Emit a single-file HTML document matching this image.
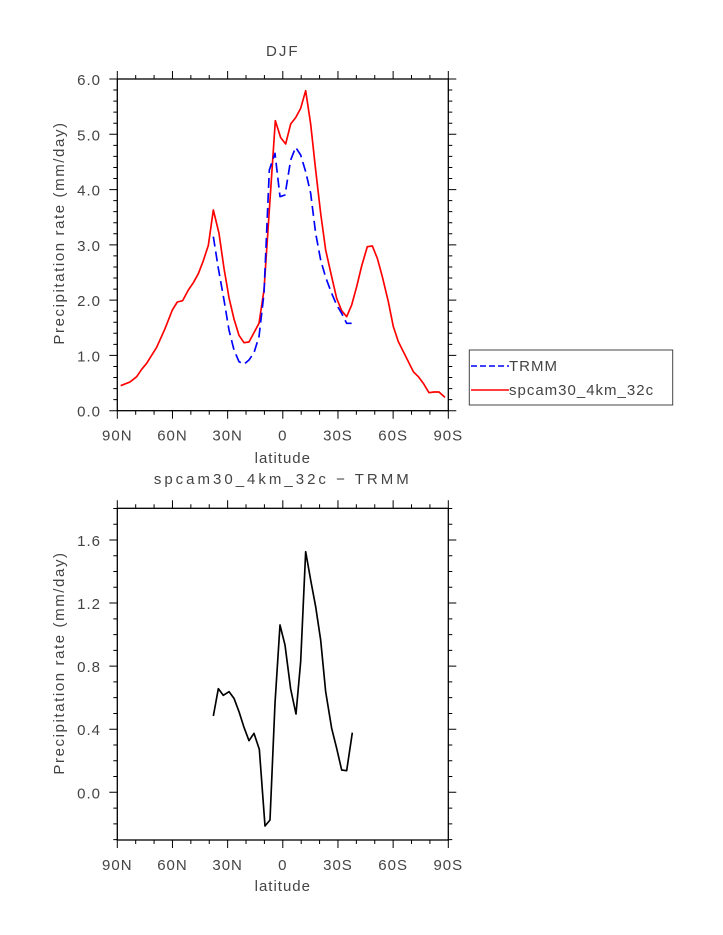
<!DOCTYPE html>
<html><head><meta charset="utf-8"><style>
html,body{margin:0;padding:0;background:#fff}
svg{display:block}
text{font-family:"Liberation Sans",sans-serif;fill:#444;font-size:15px;letter-spacing:1px}
</style></head><body>
<svg id="s" width="723" height="935" xmlns="http://www.w3.org/2000/svg">
<text x="282.8" y="56" text-anchor="middle" font-size="18" style="letter-spacing:2px">DJF</text>
<text x="282.8" y="484" text-anchor="middle" font-size="19" style="letter-spacing:3px">spcam30_4km_32c − TRMM</text>
<text x="282.8" y="463" text-anchor="middle">latitude</text>
<text x="282.8" y="891" text-anchor="middle">latitude</text>
<text transform="translate(64,233) rotate(-90)" text-anchor="middle" font-size="16" style="letter-spacing:1.6px">Precipitation rate (mm/day)</text>
<text transform="translate(64,663) rotate(-90)" text-anchor="middle" font-size="16" style="letter-spacing:1.6px">Precipitation rate (mm/day)</text>
<rect x="117.3" y="79" width="331" height="331.7" fill="none" stroke="#000" stroke-width="1.3"/>
<rect x="117.3" y="508.3" width="331" height="331.7" fill="none" stroke="#000" stroke-width="1.3"/>
<g id="ticks" stroke="#000" stroke-width="1"></g>
<g transform="translate(40,60) scale(0.33333)" fill="none" stroke-width="5" stroke-linejoin="round">
<polyline stroke="#f00" points="242,977 270,966 290,950 305,928 320,910 350,862 375,806 397,750 412,726 428,722 445,690 460,668 475,641 490,602 505,556 520,450 537,520 552,625 567,713 582,777 597,826 612,848 627,846 642,818 657,790 672,690 688,450 706,182 722,233 737,252 752,192 767,173 782,145 797,92 812,192 827,330 842,460 857,570 875,650 890,715 905,752 920,770 935,735 950,680 965,618 982,560 997,558 1012,595 1027,650 1045,725 1060,800 1075,845 1090,875 1105,905 1120,935 1135,950 1150,970 1167,998 1182,996 1197,996 1215,1012"/>
<polyline stroke="#00f" stroke-dasharray="30,15" points="520,530 535,625 552,720 567,810 582,870 597,905 612,913 627,900 642,878 657,830 672,700 688,330 705,280 720,410 735,405 752,300 767,262 782,285 797,335 812,400 827,520 842,600 857,652 875,700 890,735 905,760 920,790 935,790"/>
</g>
<g transform="translate(40,490) scale(0.33333)" fill="none" stroke-width="5" stroke-linejoin="round">
<polyline stroke="#000" points="520,678 535,596 550,616 567,605 582,625 597,665 612,712 627,752 642,730 658,778 675,1008 690,990 705,640 720,405 735,465 752,597 768,672 782,515 797,185 812,270 827,350 842,450 857,605 875,715 890,775 905,840 920,842 937,728"/>
</g>
<rect x="469.3" y="350" width="203.4" height="55" fill="#fff" stroke="#444" stroke-width="1"/>
<line x1="471" y1="366" x2="509" y2="366" stroke="#00f" stroke-width="1.5" stroke-dasharray="6,3"/>
<line x1="471" y1="390" x2="509" y2="390" stroke="#f00" stroke-width="1.5"/>
<text x="509" y="371">TRMM</text>
<text x="509" y="395">spcam30_4km_32c</text>
<g id="labels"></g>
</svg>
<script>
(function(){
var ns="http://www.w3.org/2000/svg",g=document.getElementById("ticks"),L=document.getElementById("labels"),d="";
var X0=117.3,X1=448.3,xl=["90N","60N","30N","0","30S","60S","90S"];
function tx(i){return X0+i*(X1-X0)/18;}
function lab(x,y,t,a){var e=document.createElementNS(ns,"text");e.setAttribute("x",x);e.setAttribute("y",y);e.setAttribute("text-anchor",a);e.textContent=t;L.appendChild(e);}
[[79,410.7],[508.3,840]].forEach(function(p){
 for(var i=0;i<=18;i++){var x=tx(i),m=(i%3==0)?8:4;
  d+="M"+x+" "+p[1]+"v"+m+"M"+x+" "+p[0]+"v-"+m;
  if(i%3==0)lab(x,p[1]+30,xl[i/3],"middle");}
});
for(var k=0;k<=30;k++){var y=410.7-k*0.2*55.283,m=(k%5==0)?8:4;
 d+="M117.3 "+y+"h-"+m+"M448.3 "+y+"h"+m;
 if(k%5==0)lab(101,y+6,(k/5).toFixed(1),"end");}
for(var k=-3;k<=18;k++){var y=792.3-k*0.1*157.7,m=(k%4==0)?8:4;
 d+="M117.3 "+y+"h-"+m+"M448.3 "+y+"h"+m;
 if(k%4==0)lab(101,y+6,(k/10).toFixed(1),"end");}
var p=document.createElementNS(ns,"path");p.setAttribute("d",d);g.appendChild(p);
})();
</script>
</body></html>
